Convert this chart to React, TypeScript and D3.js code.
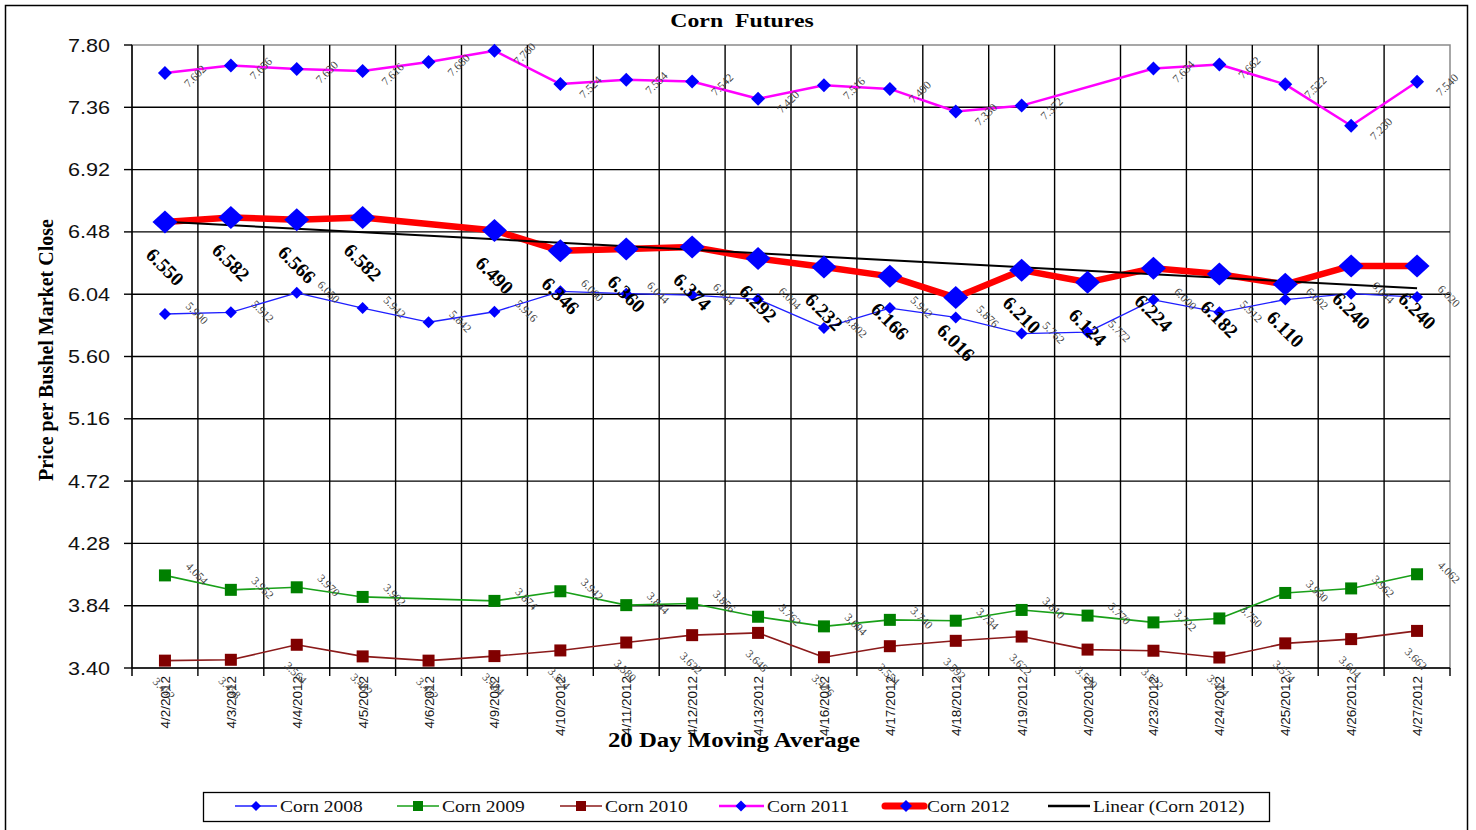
import React from "react";
import * as d3 from "d3";

// Trading days (20 day moving average window)
const dates = [
  "4/2/2012", "4/3/2012", "4/4/2012", "4/5/2012", "4/6/2012",
  "4/9/2012", "4/10/2012", "4/11/2012", "4/12/2012", "4/13/2012",
  "4/16/2012", "4/17/2012", "4/18/2012", "4/19/2012", "4/20/2012",
  "4/23/2012", "4/24/2012", "4/25/2012", "4/26/2012", "4/27/2012",
];

type V = number | null;

const corn2008: V[] = [5.900, 5.912, 6.050, 5.942, 5.842, 5.916, 6.060, 6.044, 6.034, 6.004, 5.802, 5.942, 5.876, 5.762, 5.772, 6.000, 5.912, 6.002, 6.044, 6.020];
const corn2009: V[] = [4.054, 3.952, 3.970, 3.902, null, 3.874, 3.942, 3.844, 3.856, 3.762, 3.694, 3.740, 3.734, 3.810, 3.770, 3.722, 3.750, 3.930, 3.962, 4.062];
const corn2010: V[] = [3.452, 3.458, 3.564, 3.482, 3.452, 3.484, 3.524, 3.580, 3.632, 3.648, 3.476, 3.554, 3.592, 3.622, 3.530, 3.522, 3.474, 3.574, 3.604, 3.662];
const corn2011: V[] = [7.602, 7.656, 7.630, 7.616, 7.680, 7.760, 7.524, 7.554, 7.542, 7.420, 7.516, 7.490, 7.330, 7.372, null, 7.634, 7.662, 7.522, 7.230, 7.540];
const corn2012: V[] = [6.550, 6.582, 6.566, 6.582, null, 6.490, 6.346, 6.360, 6.374, 6.292, 6.232, 6.166, 6.016, 6.210, 6.124, 6.224, 6.182, 6.110, 6.240, 6.240];

const yTickLabels = ["3.40", "3.84", "4.28", "4.72", "5.16", "5.60", "6.04", "6.48", "6.92", "7.36", "7.80"];

const legendNames = ["Corn 2008", "Corn 2009", "Corn 2010", "Corn 2011", "Corn 2012", "Linear (Corn 2012)"];

const PLOT = { left: 132, right: 1450, top: 45, bottom: 668 };
const SERIF = "'Liberation Serif', 'Times New Roman', serif";
const SANS = "'Liberation Sans', Arial, sans-serif";

const x = d3.scaleBand<string>().domain(dates).range([PLOT.left, PLOT.right]);
const yTicks = yTickLabels.map(Number);
const y = d3.scaleLinear().domain([yTicks[0], yTicks[yTicks.length - 1]]).range([PLOT.bottom, PLOT.top]);
const cx = (i: number) => (x(dates[i]) as number) + x.bandwidth() / 2;

type Pt = { i: number; v: number };
const pts = (vals: V[]): Pt[] =>
  vals.map((v, i) => ({ i, v })).filter((p): p is Pt => p.v !== null);

const lineGen = d3.line<Pt>().x((p) => cx(p.i)).y((p) => y(p.v));

const diamond = (w: number, h: number) => `M0,${-h}L${w},0L0,${h}L${-w},0Z`;

// Least-squares trend of Corn 2012 (x = 1..20, blanks skipped)
const trend = (() => {
  const p = pts(corn2012);
  const mx = d3.mean(p, (d) => d.i + 1) as number;
  const my = d3.mean(p, (d) => d.v) as number;
  const sxy = d3.sum(p, (d) => (d.i + 1 - mx) * (d.v - my));
  const sxx = d3.sum(p, (d) => (d.i + 1 - mx) ** 2);
  const b = sxy / sxx;
  const a = my - b * mx;
  return { a, b };
})();

type Series = {
  vals: V[];
  color: string;
  width: number;
  marker: "diamond" | "square";
  markerColor: string;
  mw: number;
  mh: number;
  label: { dx: number; dy: number; rot: number };
};

const series: Series[] = [
  { vals: corn2009, color: "#19a019", width: 1.6, marker: "square", markerColor: "#008000", mw: 6, mh: 6,
    label: { dx: 32, dy: -2, rot: 45 } },
  { vals: corn2010, color: "#8b1a1a", width: 1.6, marker: "square", markerColor: "#800000", mw: 6, mh: 6,
    label: { dx: -1, dy: 28, rot: 45 } },
  { vals: corn2008, color: "#1f1fff", width: 1.3, marker: "diamond", markerColor: "#0000ff", mw: 6, mh: 6,
    label: { dx: 32, dy: -1, rot: 45 } },
  { vals: corn2011, color: "#ff00ff", width: 2.5, marker: "diamond", markerColor: "#0000ff", mw: 7, mh: 7,
    label: { dx: 30, dy: 3, rot: -45 } },
];

const fmt = d3.format(".3f");

function SeriesMarks({ s }: { s: Series }) {
  const p = pts(s.vals);
  return (
    <g>
      <path d={lineGen(p) as string} fill="none" stroke={s.color} strokeWidth={s.width} strokeLinejoin="round" />
      {p.map((d) =>
        s.marker === "diamond" ? (
          <path key={d.i} d={diamond(s.mw, s.mh)} transform={`translate(${cx(d.i)},${y(d.v)})`} fill={s.markerColor} />
        ) : (
          <rect key={d.i} x={cx(d.i) - s.mw} y={y(d.v) - s.mh} width={s.mw * 2} height={s.mh * 2} fill={s.markerColor} />
        )
      )}
    </g>
  );
}

function SeriesLabels({ s }: { s: Series }) {
  const p = pts(s.vals);
  return (
    <g>
      {p.map((d) => (
        <text
          key={d.i}
          transform={`translate(${cx(d.i) + s.label.dx},${y(d.v) + s.label.dy}) rotate(${s.label.rot})`}
          textAnchor="middle"
          dominantBaseline="central"
          fontFamily={SERIF}
          fontSize={11.5}
          fill="#444"
        >
          {fmt(d.v)}
        </text>
      ))}
    </g>
  );
}

export default function App() {
  const p12 = pts(corn2012);
  const trendY = (i: number) => trend.a + trend.b * (i + 1);
  const boundaries = d3.range(1, dates.length).map((i) => x(dates[i]) as number);

  const legendLineX = [235, 397, 560, 719, 882, 1048];
  const legendY = 806;

  return (
    <svg width={1476} height={830} style={{ position: "absolute", left: 0, top: 0, background: "#fff" }}>
      <rect x={0} y={0} width={1476} height={830} fill="#fff" />
      {/* outer frame */}
      <rect x={5.5} y={5.5} width={1462} height={840} fill="none" stroke="#000" strokeWidth={1.5} />

      {/* title */}
      <text transform="translate(742,27) scale(1.25,1)" textAnchor="middle" fontFamily={SERIF} fontWeight="bold" fontSize={19}>
        Corn{"\u00a0\u00a0"}Futures
      </text>

      {/* plot frame */}
      <rect x={PLOT.left} y={PLOT.top} width={PLOT.right - PLOT.left} height={PLOT.bottom - PLOT.top} fill="none" stroke="#8a8a8a" strokeWidth={1.5} />

      {/* horizontal gridlines and y ticks */}
      {yTicks.map((t, k) => (
        <g key={t}>
          {k > 0 && k < yTicks.length - 1 && (
            <line x1={PLOT.left} x2={PLOT.right} y1={y(t)} y2={y(t)} stroke="#000" strokeWidth={1.4} />
          )}
          <line x1={PLOT.left - 8} x2={PLOT.left} y1={y(t)} y2={y(t)} stroke="#000" strokeWidth={1.4} />
          <text transform={`translate(110,${y(t) + 6.5}) scale(1.2,1)`} textAnchor="end" fontFamily={SANS} fontSize={18} fill="#111">
            {yTickLabels[k]}
          </text>
        </g>
      ))}

      {/* vertical gridlines and x ticks */}
      {boundaries.map((bx) => (
        <line key={bx} x1={bx} x2={bx} y1={PLOT.top} y2={PLOT.bottom + 8} stroke="#000" strokeWidth={1.4} />
      ))}
      <line x1={PLOT.left} x2={PLOT.left} y1={PLOT.top} y2={PLOT.bottom + 8} stroke="#000" strokeWidth={1.5} />
      <line x1={PLOT.right} x2={PLOT.right} y1={PLOT.bottom} y2={PLOT.bottom + 8} stroke="#000" strokeWidth={1.4} />
      <line x1={PLOT.left} x2={PLOT.right} y1={PLOT.bottom} y2={PLOT.bottom} stroke="#000" strokeWidth={1.5} />

      {/* x tick labels */}
      {dates.map((d, i) => (
        <text
          key={d}
          transform={`translate(${cx(i) + 5},${PLOT.bottom + 8}) rotate(-90)`}
          textAnchor="end"
          fontFamily={SANS}
          fontSize={13.5}
          fill="#111"
        >
          {d}
        </text>
      ))}

      {/* series */}
      {series.map((s, k) => (
        <SeriesMarks key={k} s={s} />
      ))}

      {/* Corn 2012 with its linear trend */}
      <path d={lineGen(p12) as string} fill="none" stroke="#ff0000" strokeWidth={6.5} strokeLinejoin="round" />
      <line x1={cx(0)} x2={cx(dates.length - 1)} y1={y(trendY(0))} y2={y(trendY(dates.length - 1))} stroke="#000" strokeWidth={2} />
      {p12.map((d) => (
        <path key={d.i} d={diamond(12.5, 11.5)} transform={`translate(${cx(d.i)},${y(d.v)})`} fill="#0000ff" />
      ))}

      {/* data labels */}
      {series.map((s, k) => (
        <SeriesLabels key={k} s={s} />
      ))}
      {p12.map((d) => (
        <text
          key={d.i}
          transform={`translate(${cx(d.i)},${y(d.v) + 45}) rotate(45)`}
          textAnchor="middle"
          dominantBaseline="central"
          fontFamily={SERIF}
          fontWeight="bold"
          fontSize={19.5}
          fill="#000"
        >
          {fmt(d.v)}
        </text>
      ))}

      {/* axis titles */}
      <text transform="translate(53,350) rotate(-90)" textAnchor="middle" fontFamily={SERIF} fontWeight="bold" fontSize={20}>
        Price per Bushel Market Close
      </text>
      <text transform="translate(734,747) scale(1.24,1)" textAnchor="middle" fontFamily={SERIF} fontWeight="bold" fontSize={20}>
        20 Day Moving Average
      </text>

      {/* legend */}
      <rect x={203.5} y={792.5} width={1066} height={29} fill="#fff" stroke="#000" strokeWidth={1.3} />
      {legendNames.map((name, k) => {
        const lx = legendLineX[k];
        const mid = lx + 21;
        return (
          <g key={name}>
            {k === 0 && (
              <g>
                <line x1={lx} x2={lx + 42} y1={legendY} y2={legendY} stroke="#1f1fff" strokeWidth={1.3} />
                <path d={diamond(5, 5)} transform={`translate(${mid},${legendY})`} fill="#0000ff" />
              </g>
            )}
            {k === 1 && (
              <g>
                <line x1={lx} x2={lx + 42} y1={legendY} y2={legendY} stroke="#19a019" strokeWidth={1.6} />
                <rect x={mid - 5} y={legendY - 5} width={10} height={10} fill="#008000" />
              </g>
            )}
            {k === 2 && (
              <g>
                <line x1={lx} x2={lx + 42} y1={legendY} y2={legendY} stroke="#8b1a1a" strokeWidth={1.6} />
                <rect x={mid - 5} y={legendY - 5} width={10} height={10} fill="#800000" />
              </g>
            )}
            {k === 3 && (
              <g>
                <line x1={lx} x2={lx + 45} y1={legendY} y2={legendY} stroke="#ff00ff" strokeWidth={2.5} />
                <path d={diamond(5.5, 5.5)} transform={`translate(${mid + 1},${legendY})`} fill="#0000ff" />
              </g>
            )}
            {k === 4 && (
              <g>
                <line x1={lx + 3} x2={lx + 42} y1={legendY} y2={legendY} stroke="#ff0000" strokeWidth={7} strokeLinecap="round" />
                <path d={diamond(6, 6)} transform={`translate(${mid + 3},${legendY})`} fill="#0000ff" />
              </g>
            )}
            {k === 5 && <line x1={lx} x2={lx + 42} y1={legendY} y2={legendY} stroke="#000" strokeWidth={2.5} />}
            <text transform={`translate(${lx + (k === 3 ? 48 : 45)},${legendY + 6}) scale(1.22,1)`} fontFamily={SERIF} fontSize={16} fill="#111">
              {name}
            </text>
          </g>
        );
      })}
    </svg>
  );
}
